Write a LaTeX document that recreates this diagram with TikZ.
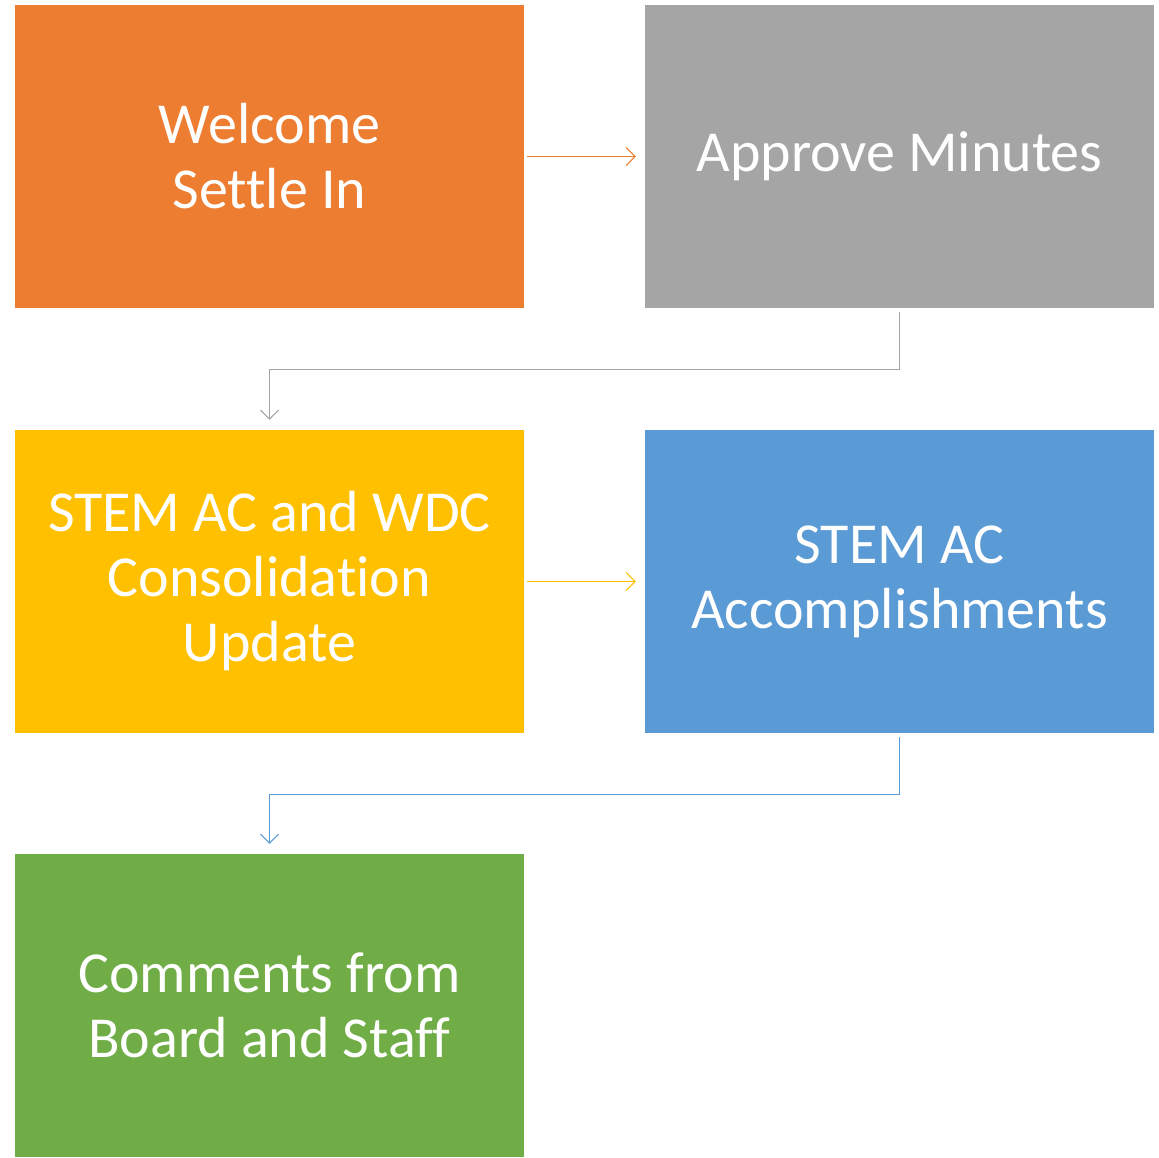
\documentclass[tikz,border=0pt]{standalone}
\usepackage{fontspec}
\setmainfont[Ligatures=NoCommon]{Carlito}
\usetikzlibrary{arrows.meta}
\definecolor{corange}{HTML}{ED7D31}
\definecolor{cgray}{HTML}{A5A5A5}
\definecolor{cyellow}{HTML}{FFC000}
\definecolor{cblue}{HTML}{5B9BD5}
\definecolor{cgreen}{HTML}{70AD47}
\tikzset{
  stepbox/.style={draw=none, minimum width=509pt, minimum height=303pt, inner sep=0pt,
    text=white, align=center, font=\fontsize{58}{65}\selectfont},
  conn/.style={line width=1pt, -{Straight Barb[length=9pt, width=18pt, line width=1pt]}}
}
\begin{document}
\begin{tikzpicture}[x=1pt,y=-1pt]
\useasboundingbox (0,0) rectangle (1159,1157);
\node[stepbox, fill=corange] (a) at (269.5,156.5) {Welcome\\Settle In};
\node[stepbox, fill=cgray] (b) at (899.5,156.5) {Approve Minutes};
\node[stepbox, fill=cyellow] (c) at (269.5,581.5) {STEM AC and WDC\\Consolidation\\Update};
\node[stepbox, fill=cblue] (d) at (899.5,581.5) {STEM AC\\Accomplishments};
\node[stepbox, fill=cgreen] (e) at (269.5,1005.5) {Comments from\\Board and Staff};
\draw[conn, corange] ([xshift=3pt]a.east) -- ([xshift=-9pt]b.west);
\draw[conn, cgray] ([yshift=-4pt]b.south) -- (899.5,369) -- (269.5,369) -- ([yshift=10pt]c.north);
\draw[conn, cyellow] ([xshift=3pt]c.east) -- ([xshift=-9pt]d.west);
\draw[conn, cblue] ([yshift=-4pt]d.south) -- (899.5,794) -- (269.5,794) -- ([yshift=10pt]e.north);
\end{tikzpicture}
\end{document}
